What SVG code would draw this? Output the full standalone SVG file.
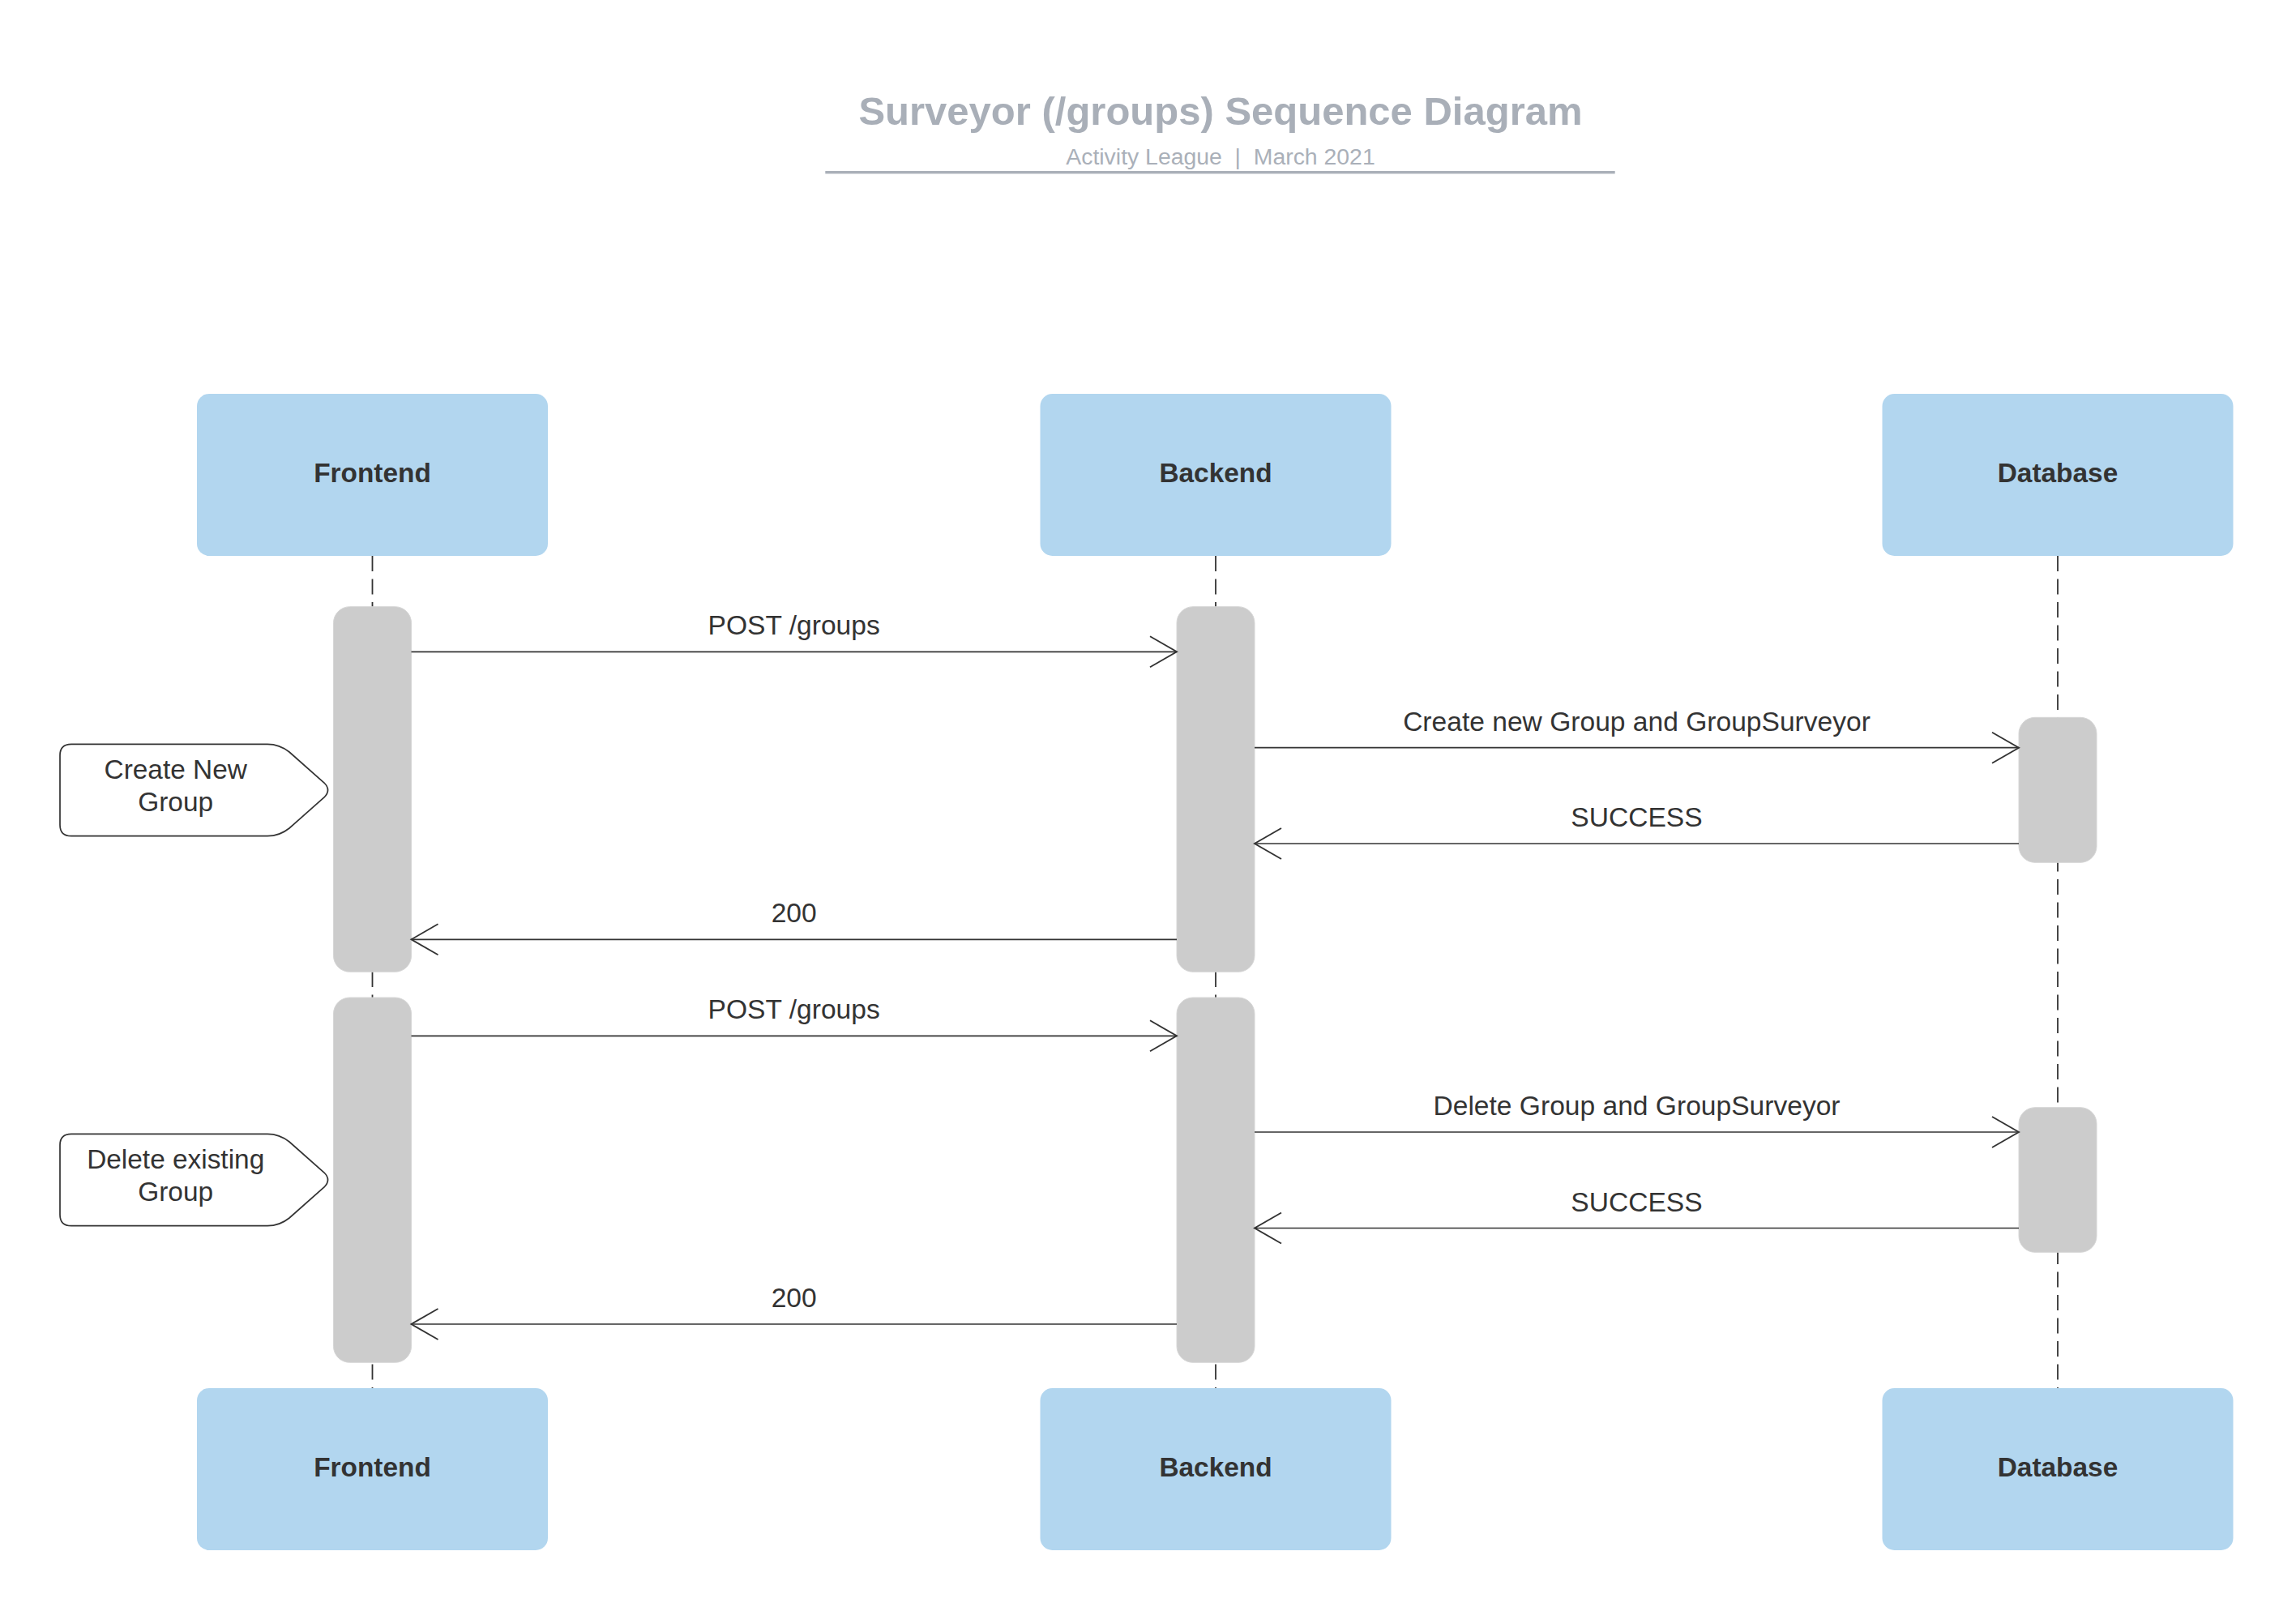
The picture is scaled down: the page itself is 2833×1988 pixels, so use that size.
<svg xmlns="http://www.w3.org/2000/svg" width="2833" height="1988" viewBox="0 0 2833 1988">
<style>
.bg{fill:#ffffff}
.title{font-family:"Liberation Sans",Arial,sans-serif;font-weight:bold;font-size:49px;fill:#a9afb8;text-anchor:middle}
.sub{font-family:"Liberation Sans",Arial,sans-serif;font-size:28.4px;fill:#aab0b9;text-anchor:middle;white-space:pre}
.part rect{fill:#b2d6ef}
.part text{font-family:"Liberation Sans",Arial,sans-serif;font-weight:bold;font-size:33.4px;fill:#333333;text-anchor:middle}
.life{stroke:#333333;stroke-width:1.8;stroke-dasharray:19 9.5;fill:none}
.bar{fill:#cccccc;stroke:#d6d6d6;stroke-width:1}
.msg{stroke:#333333;stroke-width:1.7;fill:none;marker-end:url(#open)}
.lbl{font-family:"Liberation Sans",Arial,sans-serif;font-size:33.6px;fill:#333333;text-anchor:middle}
.note path{fill:#ffffff;stroke:#333333;stroke-width:1.7}
.note text{font-family:"Liberation Sans",Arial,sans-serif;font-size:33.4px;fill:#333333;text-anchor:middle}
</style>
<defs>
<marker id="open" markerUnits="userSpaceOnUse" viewBox="-36 -22 38 44" refX="0" refY="0" markerWidth="38" markerHeight="44" orient="auto" overflow="visible">
<path d="M -33 -19 L 0 0 L -33 19" fill="none" stroke="#333333" stroke-width="1.9"/>
</marker>
</defs>
<rect class="bg" x="0" y="0" width="2833" height="1988"/>

<g id="title">
<text class="title" x="1506" y="154">Surveyor (/groups) Sequence Diagram</text>
<text class="sub" x="1506" y="203.3" xml:space="preserve">Activity League  |  March 2021</text>
<rect x="1018.3" y="211" width="974.4" height="3.4" fill="#aab0b9"/>
</g>

<g id="lifelines">
<line class="life" x1="459.5" y1="686" x2="459.5" y2="1713"/>
<line class="life" x1="1500" y1="686" x2="1500" y2="1713"/>
<line class="life" x1="2539" y1="686" x2="2539" y2="1713"/>
</g>

<g id="frontend-top" class="part">
<rect x="243" y="486" width="433" height="200" rx="15" ry="15"/>
<text x="459.5" y="594.5">Frontend</text>
</g>
<g id="backend-top" class="part">
<rect x="1283.5" y="486" width="433" height="200" rx="15" ry="15"/>
<text x="1500" y="594.5">Backend</text>
</g>
<g id="database-top" class="part">
<rect x="2322.5" y="486" width="433" height="200" rx="15" ry="15"/>
<text x="2539" y="594.5">Database</text>
</g>

<g id="frontend-bottom" class="part">
<rect x="243" y="1713" width="433" height="200" rx="15" ry="15"/>
<text x="459.5" y="1821.5">Frontend</text>
</g>
<g id="backend-bottom" class="part">
<rect x="1283.5" y="1713" width="433" height="200" rx="15" ry="15"/>
<text x="1500" y="1821.5">Backend</text>
</g>
<g id="database-bottom" class="part">
<rect x="2322.5" y="1713" width="433" height="200" rx="15" ry="15"/>
<text x="2539" y="1821.5">Database</text>
</g>

<g id="activations">
<rect id="fe-act1" class="bar" x="411.5" y="748.7" width="96" height="450.6" rx="20" ry="20"/>
<rect id="fe-act2" class="bar" x="411.5" y="1231" width="96" height="450.3" rx="20" ry="20"/>
<rect id="be-act1" class="bar" x="1452" y="748.7" width="96" height="450.6" rx="20" ry="20"/>
<rect id="be-act2" class="bar" x="1452" y="1231" width="96" height="450.3" rx="20" ry="20"/>
<rect id="db-act1" class="bar" x="2491" y="885.3" width="96" height="179" rx="20" ry="20"/>
<rect id="db-act2" class="bar" x="2491" y="1366.7" width="96" height="178.6" rx="20" ry="20"/>
</g>

<g id="connectors">
<line class="msg" x1="507.5" y1="804.3" x2="1452" y2="804.3"/>
<line class="msg" x1="1548" y1="922.7" x2="2491" y2="922.7"/>
<line class="msg" x1="2491" y1="1041" x2="1548" y2="1041"/>
<line class="msg" x1="1452" y1="1159.3" x2="507.5" y2="1159.3"/>
<line class="msg" x1="507.5" y1="1278.3" x2="1452" y2="1278.3"/>
<line class="msg" x1="1548" y1="1397" x2="2491" y2="1397"/>
<line class="msg" x1="2491" y1="1515.5" x2="1548" y2="1515.5"/>
<line class="msg" x1="1452" y1="1634" x2="507.5" y2="1634"/>
<text class="lbl" x="979.7" y="783.3">POST /groups</text>
<text class="lbl" x="2019.5" y="901.7">Create new Group and GroupSurveyor</text>
<text class="lbl" x="2019.5" y="1020">SUCCESS</text>
<text class="lbl" x="979.7" y="1138.3">200</text>
<text class="lbl" x="979.7" y="1257.3">POST /groups</text>
<text class="lbl" x="2019.5" y="1376">Delete Group and GroupSurveyor</text>
<text class="lbl" x="2019.5" y="1494.5">SUCCESS</text>
<text class="lbl" x="979.7" y="1613">200</text>
</g>

<g id="note-create" class="note">
<path d="M 88 918.3 H 330 Q 345 918.3 357 928 L 400 966 Q 409 975 400 984 L 357 1022 Q 345 1031.7 330 1031.7 H 88 Q 74 1031.7 74 1018 V 932 Q 74 918.3 88 918.3 Z"/>
<text x="216.7" y="961">Create New</text>
<text x="216.7" y="1001">Group</text>
</g>
<g id="note-delete" class="note">
<path d="M 88 1399.3 H 330 Q 345 1399.3 357 1409 L 400 1447 Q 409 1456 400 1465 L 357 1503 Q 345 1512.7 330 1512.7 H 88 Q 74 1512.7 74 1499 V 1413 Q 74 1399.3 88 1399.3 Z"/>
<text x="216.7" y="1442">Delete existing</text>
<text x="216.7" y="1482">Group</text>
</g>
</svg>
